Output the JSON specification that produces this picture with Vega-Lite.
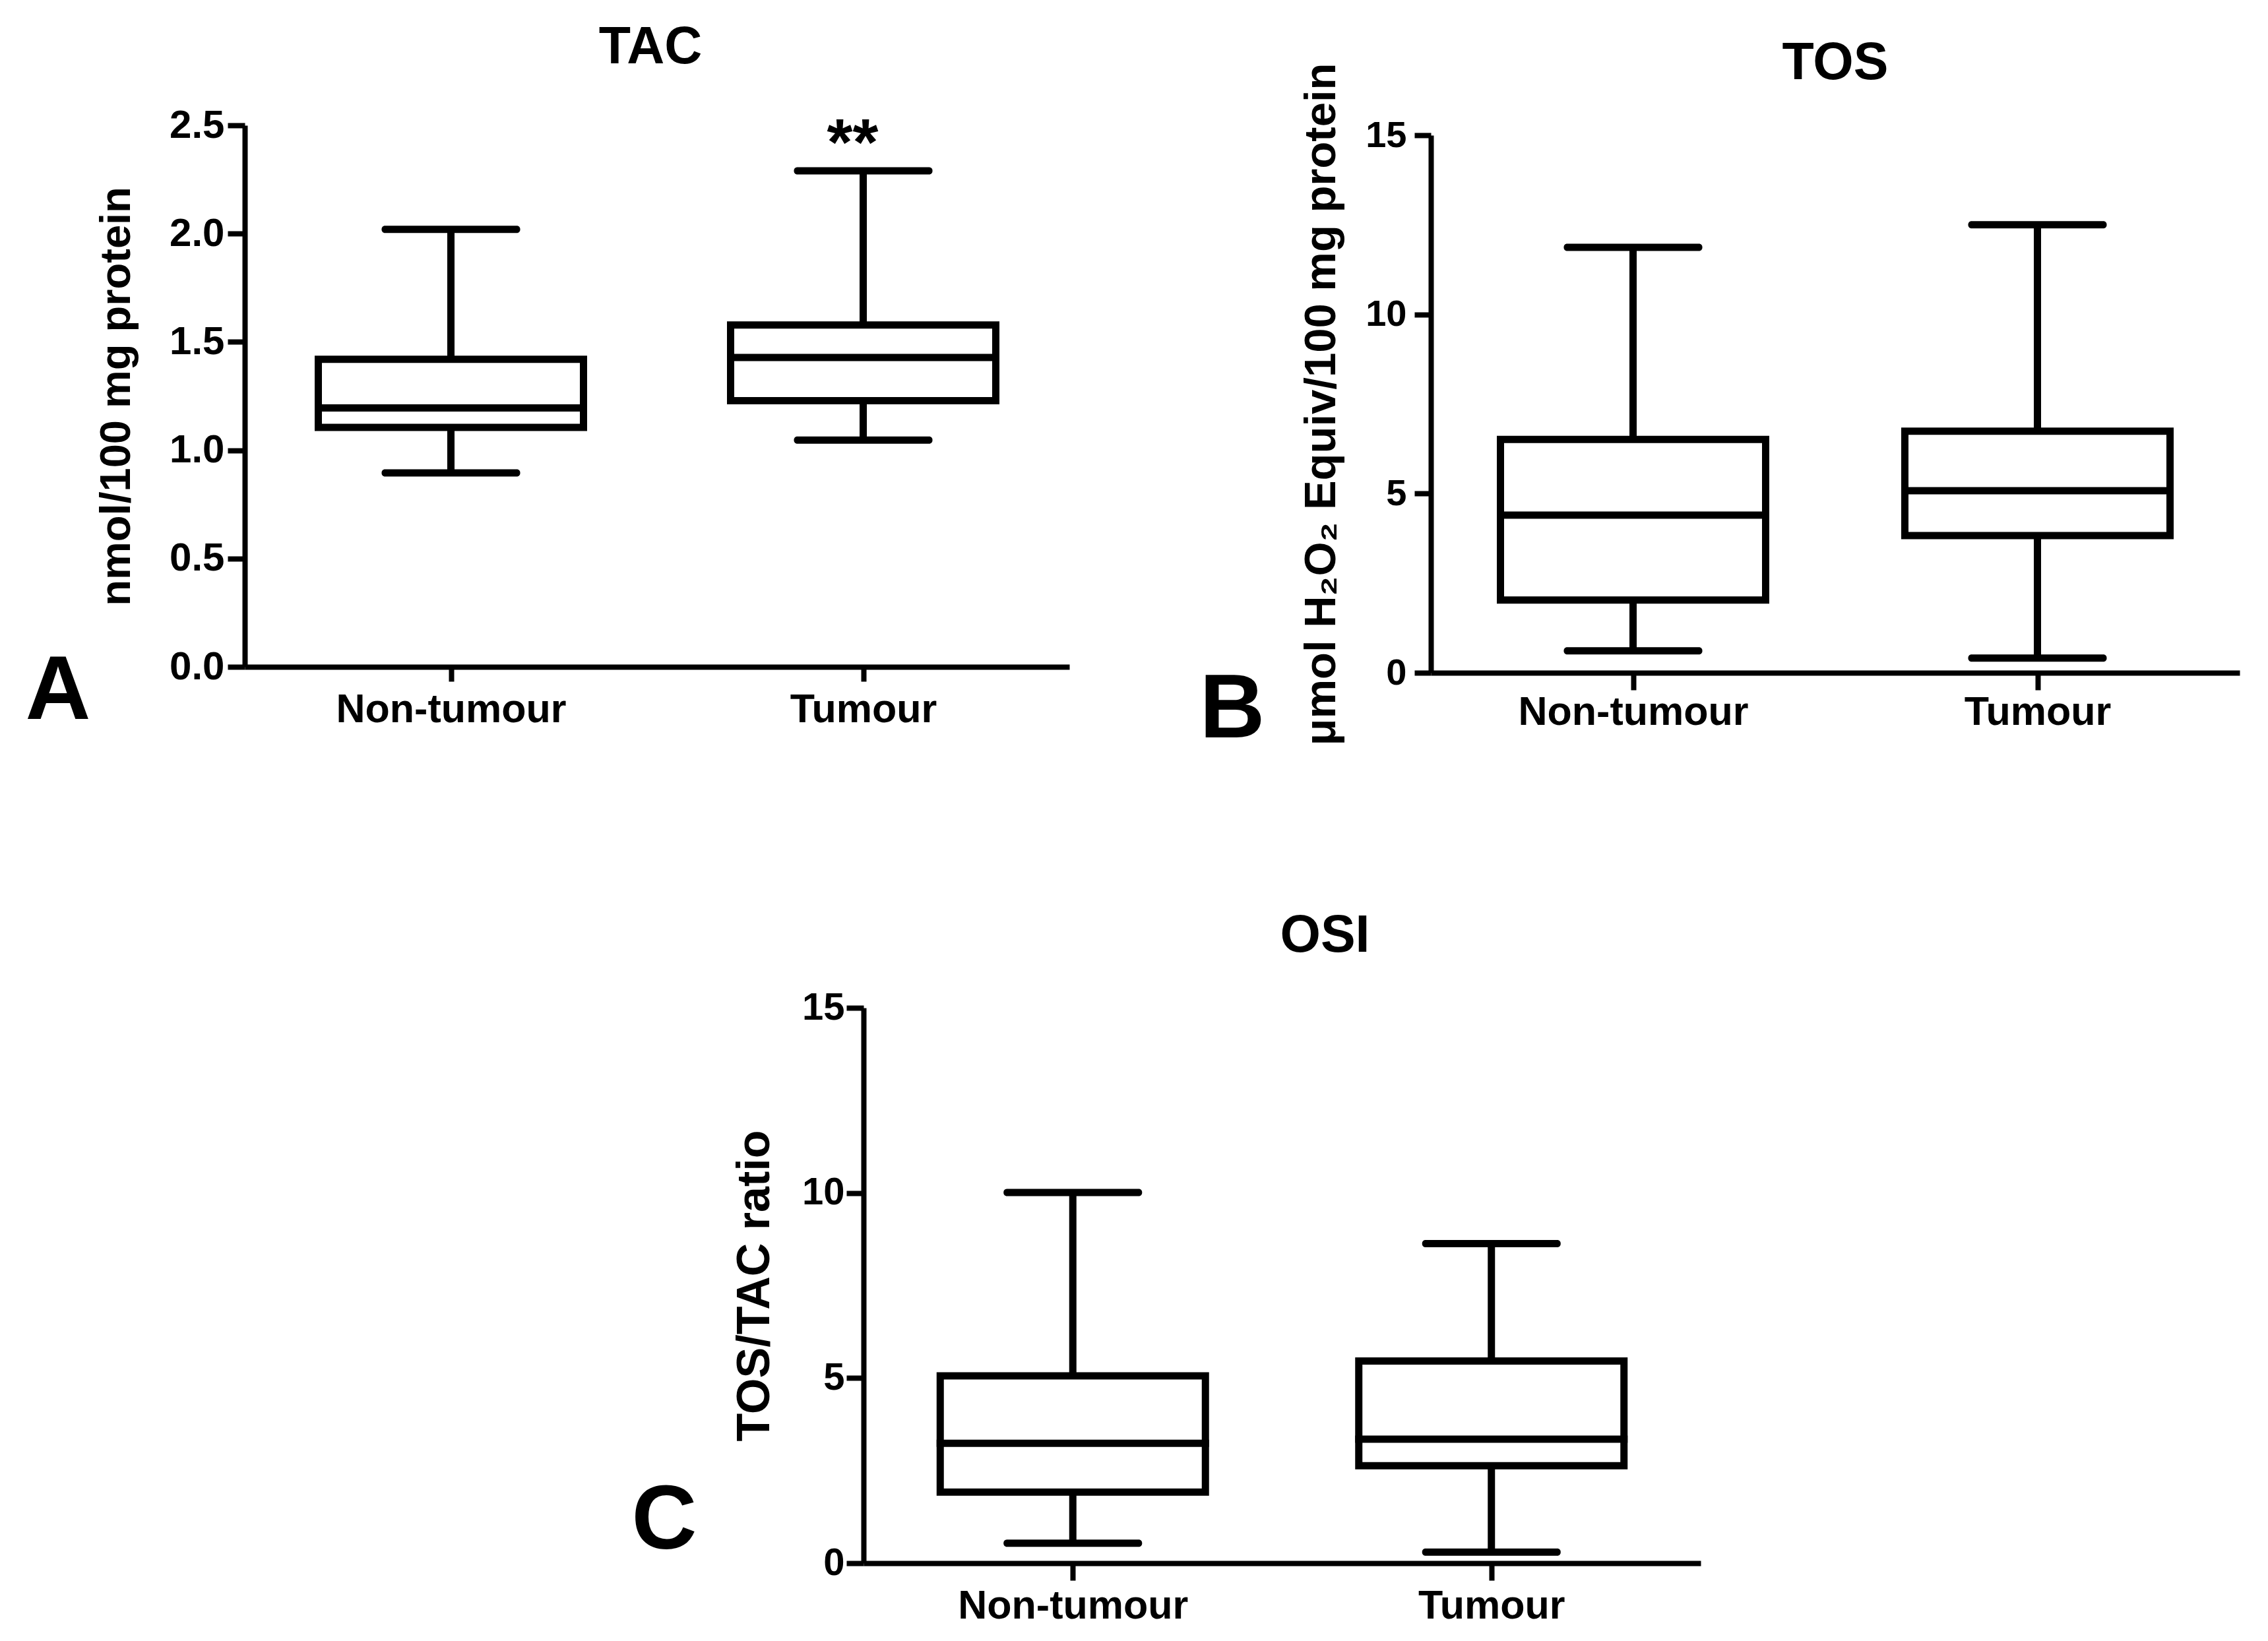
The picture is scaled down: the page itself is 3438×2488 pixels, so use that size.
{
  "$schema": "https://vega.github.io/schema/vega-lite/v6.json",
  "background": "white",
  "padding": {"left": 38, "top": 33, "right": 20, "bottom": 20},
  "bounds": "flush",
  "spacing": 1338,
  "datasets": {
    "tac": [
      {"group": "Non-tumour", "lower": 0.895, "q1": 1.105, "median": 1.195, "q3": 1.42, "upper": 2.02, "sig": ""},
      {"group": "Tumour", "lower": 1.047, "q1": 1.229, "median": 1.428, "q3": 1.578, "upper": 2.29, "sig": "**"}
    ],
    "tos": [
      {"group": "Non-tumour", "lower": 0.61, "q1": 2.03, "median": 4.4, "q3": 6.51, "upper": 11.87},
      {"group": "Tumour", "lower": 0.41, "q1": 3.83, "median": 5.08, "q3": 6.74, "upper": 12.5}
    ],
    "osi": [
      {"group": "Non-tumour", "lower": 0.54, "q1": 1.92, "median": 3.24, "q3": 5.06, "upper": 10.01},
      {"group": "Tumour", "lower": 0.3, "q1": 2.63, "median": 3.35, "q3": 5.46, "upper": 8.63}
    ]
  },
  "vconcat": [
    {
      "hconcat": [
        {
          "width": 1250,
          "height": 821,
          "data": {"name": "tac"},
          "title": {"text": "TAC", "fontSize": 79, "fontWeight": "bold", "frame": "group", "anchor": "middle", "baseline": "alphabetic", "offset": -15, "dx": -10},
          "encoding": {
            "x": {
              "field": "group", "type": "nominal", "sort": ["Non-tumour", "Tumour"],
              "scale": {"type": "point", "padding": 0.5},
              "axis": {"title": "A", "titleX": -333, "titleY": 78, "titleAlign": "left", "titleBaseline": "alphabetic", "titleFontSize": 137, "titleAngle": 0, "labelAngle": 0, "labelFontSize": 61, "labelPadding": 13, "labelLimit": 1000, "tickSize": 22}
            }
          },
          "layer": [
            {"mark": {"type": "rule", "strokeWidth": 11, "color": "black"},
             "encoding": {"y": {"field": "lower", "type": "quantitative", "scale": {"domain": [0, 2.5], "nice": false},
               "axis": {"title": "nmol/100 mg protein", "titleFontSize": 65, "titlePadding": 46, "values": [0, 0.5, 1, 1.5, 2, 2.5], "format": ".1f", "labelFontSize": 60, "labelPadding": 5, "tickSize": 26}},
               "y2": {"field": "q1"}}},
            {"mark": {"type": "rule", "strokeWidth": 11, "color": "black"},
             "encoding": {"y": {"field": "q3", "type": "quantitative"}, "y2": {"field": "upper"}}},
            {"mark": {"type": "tick", "size": 210, "thickness": 11, "color": "black", "opacity": 1, "cornerRadius": 5},
             "encoding": {"y": {"field": "lower", "type": "quantitative"}}},
            {"mark": {"type": "tick", "size": 210, "thickness": 11, "color": "black", "opacity": 1, "cornerRadius": 5},
             "encoding": {"y": {"field": "upper", "type": "quantitative"}}},
            {"mark": {"type": "bar", "size": 402, "fill": "white", "stroke": "black", "strokeWidth": 11},
             "encoding": {"y": {"field": "q1", "type": "quantitative"}, "y2": {"field": "q3"}}},
            {"mark": {"type": "tick", "size": 413, "thickness": 11, "color": "black", "opacity": 1},
             "encoding": {"y": {"field": "median", "type": "quantitative"}}},
            {"mark": {"type": "text", "fontSize": 100, "fontWeight": "bold", "baseline": "alphabetic", "color": "black", "dy": -9, "dx": -16},
             "encoding": {"y": {"field": "upper", "type": "quantitative"}, "text": {"field": "sig"}}}
          ]
        },
        {
          "width": 1226,
          "height": 830,
          "data": {"name": "tos"},
          "title": {"text": "TOS", "fontSize": 79, "fontWeight": "bold", "frame": "group", "anchor": "middle", "baseline": "alphabetic", "offset": -104},
          "encoding": {
            "x": {
              "field": "group", "type": "nominal", "sort": ["Non-tumour", "Tumour"],
              "scale": {"type": "point", "padding": 0.5},
              "axis": {"title": "B", "titleX": -351, "titleY": 97, "titleAlign": "left", "titleBaseline": "alphabetic", "titleFontSize": 137, "titleAngle": 0, "labelAngle": 0, "labelFontSize": 61, "labelPadding": 4, "labelLimit": 1000, "tickSize": 26}
            }
          },
          "layer": [
            {"mark": {"type": "rule", "strokeWidth": 11, "color": "black"},
             "encoding": {"y": {"field": "lower", "type": "quantitative", "scale": {"domain": [0, 15], "nice": false, "range": [830, 15]},
               "axis": {"title": "μmol H₂O₂ Equiv/100 mg protein", "titleFontSize": 67, "titlePadding": 32, "values": [0, 5, 10, 15], "format": "d", "labelFontSize": 56, "labelPadding": 12, "tickSize": 25}},
               "y2": {"field": "q1"}}},
            {"mark": {"type": "rule", "strokeWidth": 11, "color": "black"},
             "encoding": {"y": {"field": "q3", "type": "quantitative"}, "y2": {"field": "upper"}}},
            {"mark": {"type": "tick", "size": 210, "thickness": 11, "color": "black", "opacity": 1, "cornerRadius": 5},
             "encoding": {"y": {"field": "lower", "type": "quantitative"}}},
            {"mark": {"type": "tick", "size": 210, "thickness": 11, "color": "black", "opacity": 1, "cornerRadius": 5},
             "encoding": {"y": {"field": "upper", "type": "quantitative"}}},
            {"mark": {"type": "bar", "size": 402, "fill": "white", "stroke": "black", "strokeWidth": 11},
             "encoding": {"y": {"field": "q1", "type": "quantitative"}, "y2": {"field": "q3"}}},
            {"mark": {"type": "tick", "size": 413, "thickness": 11, "color": "black", "opacity": 1},
             "encoding": {"y": {"field": "median", "type": "quantitative"}}}
          ]
        }
      ],
      "spacing": 548,
      "bounds": "flush"
    },
    {
      "hconcat": [
        {
          "width": 938,
          "height": 842,
          "data": {"values": []},
          "mark": "point",
          "encoding": {}
        },
        {
          "width": 1269,
          "height": 842,
          "data": {"name": "osi"},
          "title": {"text": "OSI", "fontSize": 79, "fontWeight": "bold", "frame": "group", "anchor": "middle", "baseline": "alphabetic", "offset": -23, "dx": 65},
          "encoding": {
            "x": {
              "field": "group", "type": "nominal", "sort": ["Non-tumour", "Tumour"],
              "scale": {"type": "point", "padding": 0.5},
              "axis": {"title": "C", "titleX": -352, "titleY": -23, "titleAlign": "left", "titleBaseline": "alphabetic", "titleFontSize": 137, "titleAngle": 0, "labelAngle": 0, "labelFontSize": 61, "labelPadding": 9, "labelLimit": 1000, "tickSize": 26}
            }
          },
          "layer": [
            {"mark": {"type": "rule", "strokeWidth": 11, "color": "black"},
             "encoding": {"y": {"field": "lower", "type": "quantitative", "scale": {"domain": [0, 15], "nice": false},
               "axis": {"title": "TOS/TAC ratio", "titleFontSize": 70, "titlePadding": 35, "values": [0, 5, 10, 15], "format": "d", "labelFontSize": 58, "labelPadding": 3, "tickSize": 26}},
               "y2": {"field": "q1"}}},
            {"mark": {"type": "rule", "strokeWidth": 11, "color": "black"},
             "encoding": {"y": {"field": "q3", "type": "quantitative"}, "y2": {"field": "upper"}}},
            {"mark": {"type": "tick", "size": 210, "thickness": 11, "color": "black", "opacity": 1, "cornerRadius": 5},
             "encoding": {"y": {"field": "lower", "type": "quantitative"}}},
            {"mark": {"type": "tick", "size": 210, "thickness": 11, "color": "black", "opacity": 1, "cornerRadius": 5},
             "encoding": {"y": {"field": "upper", "type": "quantitative"}}},
            {"mark": {"type": "bar", "size": 402, "fill": "white", "stroke": "black", "strokeWidth": 11},
             "encoding": {"y": {"field": "q1", "type": "quantitative"}, "y2": {"field": "q3"}}},
            {"mark": {"type": "tick", "size": 413, "thickness": 11, "color": "black", "opacity": 1},
             "encoding": {"y": {"field": "median", "type": "quantitative"}}}
          ]
        }
      ],
      "spacing": 0,
      "bounds": "flush"
    }
  ],
  "config": {
    "font": "Liberation Sans",
    "view": {"stroke": null},
    "axis": {
      "domainColor": "black", "domainWidth": 8, "tickColor": "black", "tickWidth": 8,
      "labelColor": "black", "titleColor": "black", "labelFontWeight": "bold", "titleFontWeight": "bold",
      "grid": false, "labelOverlap": false, "labelFlush": false, "labelFont": "Liberation Sans", "titleFont": "Liberation Sans"
    },
    "title": {"color": "black", "font": "Liberation Sans"}
  }
}
